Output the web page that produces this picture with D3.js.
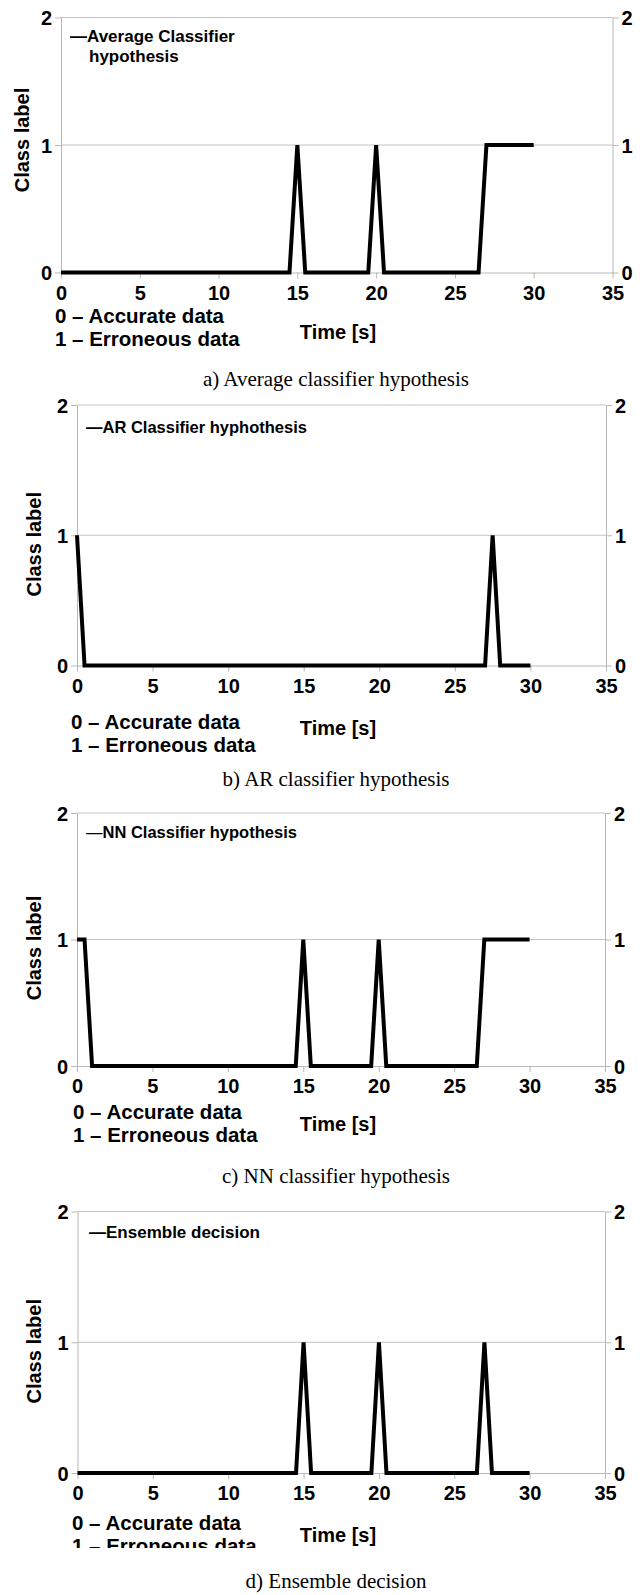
<!DOCTYPE html>
<html>
<head>
<meta charset="utf-8">
<script src="https://cdn.jsdelivr.net/npm/d3@7"></script>
<style>
  body { margin: 0; background: #fff; }
  .axis path, .axis line { stroke: #b8b8b8; }
  .axis text { font-family: "Liberation Sans", Arial, sans-serif; font-weight: bold; font-size: 20px; fill: #000; }
  .lbl { font-family: "Liberation Sans", Arial, sans-serif; font-weight: bold; fill: #000; }
  .cap { font-family: "Liberation Serif", "Times New Roman", serif; font-size: 21px; fill: #000; }
</style>
</head>
<body>
<div id="chart"></div>
<script>
// Class label (0 = accurate, 1 = erroneous)
const timeAvg  = [0, 14.5, 15, 15.5, 19.5, 20, 20.5, 26.5, 27, 30];
const labelAvg = [0, 0, 1, 0, 0, 1, 0, 0, 1, 1];

const timeAR  = [0, 0.5, 27, 27.5, 28, 30];
const labelAR = [1, 0, 0, 1, 0, 0];

const timeNN  = [0, 0.5, 1, 14.5, 15, 15.5, 19.5, 20, 20.5, 26.5, 27, 30];
const labelNN = [1, 1, 0, 0, 1, 0, 0, 1, 0, 0, 1, 1];

const timeEns  = [0, 14.5, 15, 15.5, 19.5, 20, 20.5, 26.5, 27, 27.5, 30];
const labelEns = [0, 0, 1, 0, 0, 1, 0, 0, 1, 0, 0];

const xTicks = [0, 5, 10, 15, 20, 25, 30, 35];
const yTicks = [0, 1, 2];

const legendNames = [["Average Classifier", "hypothesis"], ["AR Classifier hyphothesis"], ["NN Classifier hypothesis"], ["Ensemble decision"]];
const captions = ["a) Average classifier hypothesis", "b) AR classifier hypothesis", "c) NN classifier hypothesis", "d) Ensemble decision"];
const noteLines = ["0 \u2013 Accurate data", "1 \u2013 Erroneous data"];

// layout of each panel on the page
const panels = [
  { t: timeAvg, v: labelAvg, x0: 61, x1: 612.5, yTop: 17.5, yBot: 272.5, yLabX: 22, yLabDy: -5, legX: 70, legY: 42, legSize: 17, noteX: 55, noteY: 322.5, timeY: 339, capY: 386, thin: false },
  { t: timeAR,  v: labelAR,  x0: 77, x1: 606, yTop: 405, yBot: 665.5, yLabX: 34, yLabDy: 9, legX: 86, legY: 433, legSize: 16.5, noteX: 71, noteY: 729, timeY: 735, capY: 786, thin: false },
  { t: timeNN,  v: labelNN,  x0: 77, x1: 605, yTop: 813, yBot: 1066, yLabX: 34, yLabDy: 8.5, legX: 86, legY: 838, legSize: 16.5, noteX: 73, noteY: 1119, timeY: 1131, capY: 1183, thin: true },
  { t: timeEns, v: labelEns, x0: 77.5, x1: 605, yTop: 1211.5, yBot: 1473, yLabX: 34, yLabDy: 9, legX: 89, legY: 1238, legSize: 17, noteX: 72, noteY: 1530, timeY: 1542, capY: 1588, thin: false, clip: true }
];

const svg = d3.select("#chart")
  .append("svg")
  .attr("width", 642)
  .attr("height", 1595);

// the last class legend is cut off in the original
svg.append("defs").append("clipPath")
  .attr("id", "cut")
  .append("rect")
  .attr("x", 0).attr("y", 0).attr("width", 642).attr("height", 1548);

panels.forEach((p, i) => {
  const g = svg.append("g");

  const x = d3.scaleLinear().domain([0, 35]).range([p.x0, p.x1]);
  const y = d3.scaleLinear().domain([0, 2]).range([p.yBot, p.yTop]);

  // horizontal grid
  g.selectAll(".grid")
    .data(yTicks.slice(1))
    .enter()
    .append("line")
    .attr("x1", p.x0).attr("x2", p.x1)
    .attr("y1", d => y(d)).attr("y2", d => y(d))
    .attr("stroke", "#c4c4c4")
    .attr("stroke-width", 1);

  // axes
  const xa = g.append("g")
    .attr("class", "axis")
    .attr("transform", `translate(0,${p.yBot})`)
    .call(d3.axisBottom(x).tickValues(xTicks).tickSize(6).tickSizeOuter(0).tickPadding(5));
  xa.selectAll("text").attr("dy", "0.8em");

  const ya = g.append("g")
    .attr("class", "axis")
    .attr("transform", `translate(${p.x0},0)`)
    .call(d3.axisLeft(y).tickValues(yTicks).tickFormat(d3.format("d")).tickSize(6).tickSizeOuter(0).tickPadding(3));
  ya.selectAll("text").attr("dy", "0.36em");

  const yr = g.append("g")
    .attr("class", "axis")
    .attr("transform", `translate(${p.x1},0)`)
    .call(d3.axisRight(y).tickValues(yTicks).tickFormat(d3.format("d")).tickSize(6).tickSizeOuter(0).tickPadding(3));
  yr.selectAll("text").attr("dy", "0.36em");

  // data line
  const pts = p.t.map((d, k) => [d, p.v[k]]);
  g.append("path")
    .datum(pts)
    .attr("fill", "none")
    .attr("stroke", "#000")
    .attr("stroke-width", 4)
    .attr("stroke-linejoin", "miter")
    .attr("d", d3.line().x(d => x(d[0])).y(d => y(d[1])));

  // y title
  g.append("text")
    .attr("class", "lbl")
    .attr("font-size", 20)
    .attr("text-anchor", "middle")
    .attr("transform", `translate(${p.yLabX + 7},${(p.yTop + p.yBot) / 2 + p.yLabDy}) rotate(-90)`)
    .text("Class label");

  // legend
  const leg = g.append("text")
    .attr("class", "lbl")
    .attr("font-size", p.legSize)
    .attr("x", p.legX)
    .attr("y", p.legY);
  leg.append("tspan")
    .attr("font-weight", p.thin ? "normal" : "bold")
    .text("\u2014");
  leg.append("tspan").text(legendNames[i][0]);
  if (legendNames[i][1]) {
    g.append("text")
      .attr("class", "lbl")
      .attr("font-size", p.legSize)
      .attr("x", p.legX + 19)
      .attr("y", p.legY + 20)
      .text(legendNames[i][1]);
  }

  // class legend below the axis
  const notes = g.append("g");
  if (p.clip) notes.attr("clip-path", "url(#cut)");
  notes.selectAll("text")
    .data(noteLines)
    .enter()
    .append("text")
    .attr("class", "lbl")
    .attr("font-size", 20.5)
    .attr("x", p.noteX)
    .attr("y", (d, k) => p.noteY + k * 23)
    .text(d => d);

  g.append("text")
    .attr("class", "lbl")
    .attr("font-size", 20)
    .attr("text-anchor", "middle")
    .attr("x", 338)
    .attr("y", p.timeY)
    .text("Time [s]");

  g.append("text")
    .attr("class", "cap")
    .attr("text-anchor", "middle")
    .attr("x", 336)
    .attr("y", p.capY)
    .text(captions[i]);
});
</script>
</body>
</html>
